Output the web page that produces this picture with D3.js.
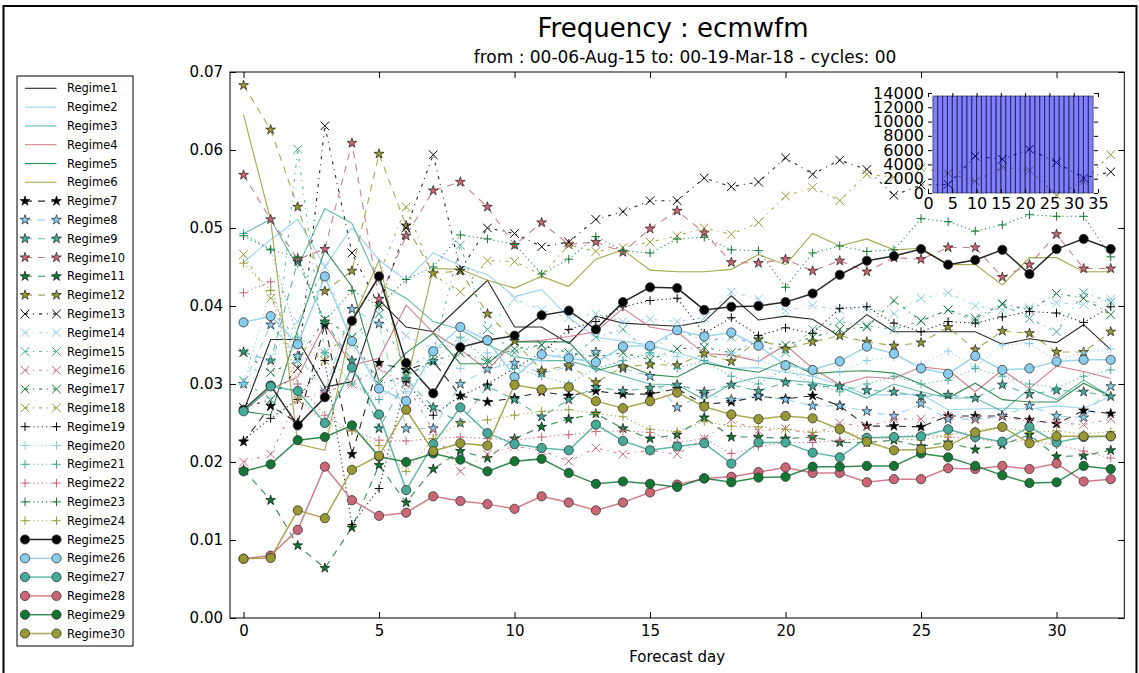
<!DOCTYPE html>
<html><head><meta charset="utf-8">
<script src="https://cdn.jsdelivr.net/npm/d3@7"></script>
<style>body{margin:0;background:#fff} svg{display:block} text{font-family:"DejaVu Sans",sans-serif}</style>
</head><body><svg id="c" width="1139" height="673"></svg>
<script>
const days = [0,1,2,3,4,5,6,7,8,9,10,11,12,13,14,15,16,17,18,19,20,21,22,23,24,25,26,27,28,29,30,31,32];
const regimeNames = ["Regime1","Regime2","Regime3","Regime4","Regime5","Regime6","Regime7","Regime8","Regime9","Regime10",
 "Regime11","Regime12","Regime13","Regime14","Regime15","Regime16","Regime17","Regime18","Regime19","Regime20",
 "Regime21","Regime22","Regime23","Regime24","Regime25","Regime26","Regime27","Regime28","Regime29","Regime30"];
const colors = ["#000000","#88CCEE","#44AA99","#CC6677","#117733","#999933"];

const regime1 = [0.0265,0.0357,0.0357,0.0296,0.0303,0.0408,0.0373,0.0367,0.0400,0.0433,0.0373,0.0373,0.0352,0.0387,0.0378,0.0376,0.0374,0.0380,0.0413,0.0382,0.0387,0.0383,0.0361,0.0389,0.0367,0.0367,0.0367,0.0367,0.0351,0.0358,0.0353,0.0376,0.0344];
const regime2 = [0.0456,0.0485,0.0511,0.0451,0.0500,0.0459,0.0433,0.0468,0.0452,0.0440,0.0412,0.0421,0.0385,0.0360,0.0355,0.0350,0.0340,0.0330,0.0320,0.0321,0.0315,0.0310,0.0299,0.0286,0.0286,0.0287,0.0267,0.0268,0.0269,0.0268,0.0272,0.0269,0.0284];
const regime3 = [0.0493,0.0511,0.0450,0.0525,0.0506,0.0429,0.0410,0.0380,0.0370,0.0350,0.0335,0.0330,0.0330,0.0320,0.0310,0.0300,0.0299,0.0280,0.0300,0.0309,0.0305,0.0302,0.0296,0.0282,0.0300,0.0290,0.0282,0.0282,0.0265,0.0294,0.0280,0.0305,0.0284];
const regime4 = [0.0265,0.0294,0.0309,0.0377,0.0324,0.0333,0.0401,0.0366,0.0344,0.0318,0.0354,0.0356,0.0361,0.0367,0.0397,0.0373,0.0367,0.0339,0.0337,0.0329,0.0350,0.0320,0.0299,0.0309,0.0307,0.0322,0.0318,0.0290,0.0318,0.0294,0.0323,0.0316,0.0307];
const regime5 = [0.0265,0.0260,0.0370,0.0472,0.0425,0.0303,0.0340,0.0365,0.0326,0.0326,0.0354,0.0354,0.0354,0.0317,0.0326,0.0312,0.0309,0.0327,0.0320,0.0315,0.0330,0.0313,0.0316,0.0317,0.0314,0.0300,0.0282,0.0301,0.0280,0.0277,0.0277,0.0301,0.0284];
const regime6 = [0.0645,0.0510,0.0223,0.0215,0.0380,0.0459,0.0300,0.0448,0.0447,0.0433,0.0423,0.0438,0.0425,0.0460,0.0472,0.0446,0.0444,0.0444,0.0447,0.0466,0.0453,0.0493,0.0477,0.0486,0.0472,0.0474,0.0453,0.0453,0.0427,0.0462,0.0462,0.0444,0.0444];
const regime7 = [0.0226,0.0272,0.0250,0.0376,0.0210,0.0327,0.0318,0.0329,0.0285,0.0277,0.0282,0.0290,0.0285,0.0291,0.0287,0.0287,0.0294,0.0274,0.0277,0.0284,0.0281,0.0285,0.0272,0.0246,0.0246,0.0245,0.0259,0.0259,0.0259,0.0254,0.0249,0.0266,0.0262];
const regime8 = [0.0300,0.0376,0.0336,0.0290,0.0396,0.0377,0.0243,0.0243,0.0300,0.0319,0.0327,0.0314,0.0322,0.0341,0.0320,0.0310,0.0270,0.0287,0.0280,0.0285,0.0280,0.0272,0.0272,0.0265,0.0259,0.0275,0.0255,0.0255,0.0259,0.0272,0.0259,0.0257,0.0297];
const regime9 = [0.0341,0.0330,0.0457,0.0380,0.0330,0.0243,0.0306,0.0270,0.0250,0.0297,0.0280,0.0258,0.0280,0.0296,0.0291,0.0295,0.0299,0.0290,0.0299,0.0291,0.0302,0.0297,0.0297,0.0292,0.0290,0.0284,0.0286,0.0282,0.0299,0.0287,0.0292,0.0290,0.0284];
const regime10 = [0.0568,0.0511,0.0460,0.0473,0.0609,0.0409,0.0490,0.0548,0.0559,0.0527,0.0478,0.0507,0.0479,0.0482,0.0469,0.0499,0.0522,0.0494,0.0456,0.0455,0.0460,0.0445,0.0458,0.0444,0.0462,0.0460,0.0475,0.0475,0.0437,0.0453,0.0492,0.0448,0.0448];
const regime11 = [0.0190,0.0151,0.0093,0.0064,0.0116,0.0196,0.0148,0.0191,0.0214,0.0205,0.0230,0.0245,0.0255,0.0262,0.0243,0.0230,0.0235,0.0257,0.0232,0.0232,0.0230,0.0232,0.0225,0.0225,0.0228,0.0220,0.0225,0.0216,0.0222,0.0235,0.0207,0.0208,0.0215];
const regime12 = [0.0683,0.0626,0.0527,0.0419,0.0445,0.0595,0.0503,0.0442,0.0445,0.0390,0.0355,0.0317,0.0324,0.0302,0.0322,0.0325,0.0324,0.0339,0.0329,0.0357,0.0345,0.0354,0.0362,0.0354,0.0349,0.0353,0.0373,0.0344,0.0368,0.0365,0.0341,0.0341,0.0367];
const regime13 = [0.0270,0.0280,0.0320,0.0631,0.0468,0.0400,0.0500,0.0594,0.0446,0.0500,0.0493,0.0476,0.0482,0.0511,0.0521,0.0535,0.0535,0.0564,0.0553,0.0559,0.0590,0.0569,0.0587,0.0575,0.0542,0.0555,0.0556,0.0592,0.0588,0.0601,0.0584,0.0564,0.0572];
const regime14 = [0.0305,0.0335,0.0380,0.0450,0.0350,0.0390,0.0362,0.0345,0.0352,0.0370,0.0409,0.0395,0.0385,0.0390,0.0380,0.0383,0.0380,0.0385,0.0418,0.0409,0.0394,0.0401,0.0395,0.0397,0.0390,0.0410,0.0417,0.0400,0.0395,0.0398,0.0404,0.0402,0.0409];
const regime15 = [0.0304,0.0280,0.0601,0.0340,0.0360,0.0390,0.0320,0.0340,0.0478,0.0370,0.0340,0.0350,0.0330,0.0360,0.0370,0.0340,0.0370,0.0355,0.0360,0.0350,0.0340,0.0370,0.0380,0.0375,0.0370,0.0381,0.0395,0.0380,0.0402,0.0384,0.0367,0.0417,0.0405];
const regime16 = [0.0200,0.0210,0.0280,0.0290,0.0300,0.0320,0.0300,0.0240,0.0188,0.0210,0.0220,0.0215,0.0201,0.0218,0.0210,0.0215,0.0210,0.0230,0.0254,0.0240,0.0243,0.0235,0.0250,0.0245,0.0255,0.0255,0.0259,0.0255,0.0258,0.0252,0.0250,0.0248,0.0255];
const regime17 = [0.0340,0.0315,0.0330,0.0383,0.0360,0.0300,0.0310,0.0330,0.0340,0.0330,0.0345,0.0350,0.0340,0.0335,0.0340,0.0331,0.0345,0.0347,0.0340,0.0355,0.0350,0.0360,0.0370,0.0373,0.0407,0.0381,0.0395,0.0384,0.0403,0.0395,0.0416,0.0410,0.0389];
const regime18 = [0.0466,0.0410,0.0350,0.0330,0.0380,0.0440,0.0527,0.0440,0.0418,0.0458,0.0457,0.0440,0.0478,0.0470,0.0475,0.0482,0.0490,0.0500,0.0492,0.0507,0.0541,0.0552,0.0535,0.0569,0.0565,0.0577,0.0570,0.0560,0.0578,0.0574,0.0542,0.0560,0.0594];
const regime19 = [0.0228,0.0256,0.0280,0.0330,0.0120,0.0166,0.0303,0.0260,0.0285,0.0300,0.0320,0.0340,0.0370,0.0380,0.0399,0.0407,0.0410,0.0365,0.0385,0.0362,0.0372,0.0365,0.0397,0.0399,0.0378,0.0367,0.0380,0.0378,0.0386,0.0393,0.0391,0.0379,0.0399];
const regime20 = [0.0300,0.0420,0.0330,0.0340,0.0320,0.0300,0.0290,0.0330,0.0320,0.0340,0.0320,0.0330,0.0340,0.0320,0.0330,0.0340,0.0335,0.0330,0.0340,0.0330,0.0320,0.0310,0.0315,0.0330,0.0335,0.0325,0.0342,0.0322,0.0350,0.0352,0.0330,0.0340,0.0345];
const regime21 = [0.0493,0.0473,0.0360,0.0340,0.0300,0.0280,0.0310,0.0330,0.0360,0.0330,0.0320,0.0310,0.0300,0.0320,0.0330,0.0340,0.0320,0.0330,0.0310,0.0300,0.0320,0.0300,0.0290,0.0300,0.0310,0.0300,0.0305,0.0320,0.0310,0.0300,0.0295,0.0310,0.0318];
const regime22 = [0.0417,0.0431,0.0300,0.0260,0.0240,0.0228,0.0227,0.0230,0.0232,0.0230,0.0228,0.0232,0.0235,0.0239,0.0240,0.0238,0.0225,0.0230,0.0211,0.0220,0.0225,0.0225,0.0228,0.0230,0.0232,0.0235,0.0232,0.0230,0.0225,0.0228,0.0222,0.0214,0.0205];
const regime23 = [0.0490,0.0472,0.0463,0.0380,0.0420,0.0400,0.0434,0.0450,0.0491,0.0486,0.0479,0.0441,0.0460,0.0489,0.0471,0.0468,0.0486,0.0488,0.0472,0.0471,0.0424,0.0468,0.0477,0.0470,0.0472,0.0512,0.0508,0.0496,0.0504,0.0517,0.0515,0.0515,0.0463];
const regime24 = [0.0455,0.0420,0.0282,0.0250,0.0240,0.0221,0.0188,0.0230,0.0250,0.0254,0.0260,0.0265,0.0267,0.0262,0.0258,0.0242,0.0239,0.0252,0.0246,0.0245,0.0242,0.0238,0.0240,0.0232,0.0230,0.0228,0.0235,0.0240,0.0245,0.0238,0.0240,0.0236,0.0239];
const regime25 = [0.0267,0.0298,0.0247,0.0283,0.0381,0.0438,0.0327,0.0288,0.0347,0.0356,0.0362,0.0388,0.0394,0.0370,0.0405,0.0424,0.0423,0.0395,0.0399,0.0400,0.0405,0.0416,0.0440,0.0458,0.0464,0.0473,0.0453,0.0459,0.0472,0.0441,0.0473,0.0486,0.0473];
const regime26 = [0.0379,0.0387,0.0351,0.0438,0.0355,0.0294,0.0278,0.0342,0.0373,0.0356,0.0309,0.0338,0.0333,0.0328,0.0348,0.0349,0.0369,0.0361,0.0366,0.0349,0.0324,0.0318,0.0329,0.0348,0.0339,0.0320,0.0313,0.0336,0.0318,0.0320,0.0329,0.0331,0.0331];
const regime27 = [0.0265,0.0297,0.0291,0.0250,0.0321,0.0261,0.0164,0.0223,0.0270,0.0237,0.0223,0.0218,0.0215,0.0248,0.0227,0.0215,0.0220,0.0224,0.0198,0.0225,0.0225,0.0212,0.0206,0.0231,0.0232,0.0233,0.0242,0.0232,0.0226,0.0245,0.0225,0.0232,0.0233];
const regime28 = [0.0076,0.0080,0.0113,0.0194,0.0151,0.0131,0.0135,0.0156,0.0150,0.0146,0.0140,0.0156,0.0148,0.0138,0.0148,0.0161,0.0171,0.0179,0.0181,0.0187,0.0193,0.0186,0.0186,0.0174,0.0178,0.0178,0.0192,0.0191,0.0195,0.0191,0.0198,0.0175,0.0178];
const regime29 = [0.0188,0.0197,0.0228,0.0232,0.0247,0.0207,0.0200,0.0211,0.0203,0.0188,0.0201,0.0204,0.0186,0.0172,0.0175,0.0172,0.0168,0.0179,0.0174,0.0180,0.0181,0.0194,0.0194,0.0195,0.0195,0.0211,0.0206,0.0195,0.0183,0.0173,0.0174,0.0195,0.0191];
const regime30 = [0.0076,0.0077,0.0138,0.0128,0.0190,0.0208,0.0267,0.0214,0.0224,0.0221,0.0299,0.0293,0.0296,0.0278,0.0269,0.0278,0.0289,0.0271,0.0261,0.0255,0.0259,0.0256,0.0242,0.0226,0.0215,0.0216,0.0221,0.0238,0.0245,0.0224,0.0233,0.0233,0.0233];

const insetBins = [1,2,3,4,5,6,7,8,9,10,11,12,13,14,15,16,17,18,19,20,21,22,23,24,25,26,27,28,29,30,31,32,33];
const insetCounts = [13580,13580,13580,13580,13580,13580,13580,13580,13580,13580,13580,13580,13580,13580,13580,13580,13580,13580,13580,13580,13580,13580,13580,13580,13580,13580,13580,13580,13580,13580,13580,13580,13580];

const yTicks = [0,0.01,0.02,0.03,0.04,0.05,0.06,0.07];
const xTicks = [0,5,10,15,20,25,30];
const insetYTicks = [0,2000,4000,6000,8000,10000,12000,14000];
const insetXTicks = [0,5,10,15,20,25,30,35];

const series = [regime1,regime2,regime3,regime4,regime5,regime6,regime7,regime8,regime9,regime10,
 regime11,regime12,regime13,regime14,regime15,regime16,regime17,regime18,regime19,regime20,
 regime21,regime22,regime23,regime24,regime25,regime26,regime27,regime28,regime29,regime30];

const svg = d3.select("#c");
svg.append("rect").attr("x",3.5).attr("y",6).attr("width",1133).attr("height",720)
  .attr("fill","none").attr("stroke","#000").attr("stroke-width",2);

const L = 230, R = 1124.3, T = 72, B = 618;
const x = d3.scaleLinear().domain([-0.5, 32.5]).range([L, R]);
const y = d3.scaleLinear().domain([0, 0.07]).range([B, T]);

function style(i){
  const g = Math.floor(i/6);
  return {
    color: colors[i%6],
    dash: [null,"7,6","3,5,1,5","1.2,3",null][g],
    marker: [null,"star","x","plus","circle"][g],
    width: g===4 ? 1.5 : 1.1
  };
}
const starPath = d3.symbol().type(d3.symbolStar).size(30)();
function markerPath(m){
  const r = 4.3;
  if(m==="x") return `M${-r},${-r}L${r},${r}M${-r},${r}L${r},${-r}`;
  if(m==="plus") return `M${-r},0L${r},0M0,${-r}L0,${r}`;
  return starPath;
}
function drawMarker(g, m, color, cx, cy){
  if(!m) return;
  if(m==="circle"){
    g.append("circle").attr("cx",cx).attr("cy",cy).attr("r",4.6)
      .attr("fill",color).attr("stroke","#333").attr("stroke-width",0.8);
  } else if(m==="star"){
    g.append("path").attr("d",markerPath(m)).attr("transform",`translate(${cx},${cy})`)
      .attr("fill",color).attr("stroke","#000").attr("stroke-width",0.6);
  } else {
    g.append("path").attr("d",markerPath(m)).attr("transform",`translate(${cx},${cy})`)
      .attr("fill","none").attr("stroke",color).attr("stroke-width",1);
  }
}

const plot = svg.append("g");
const line = d3.line().x((d,j)=>x(days[j])).y(d=>y(d));
series.forEach((vals,i)=>{
  const s = style(i);
  const g = plot.append("g");
  g.append("path").attr("d",line(vals)).attr("fill","none")
    .attr("stroke",s.color).attr("stroke-width",s.width).attr("stroke-opacity",0.85)
    .attr("stroke-dasharray",s.dash);
  vals.forEach((v,j)=>drawMarker(g, s.marker, s.color, x(days[j]), y(v)));
});

svg.append("rect").attr("x",L).attr("y",T).attr("width",R-L).attr("height",B-T)
  .attr("fill","none").attr("stroke","#000").attr("stroke-width",1);
const fs = "15px";
const ax = svg.append("g").attr("transform",`translate(0,${B})`)
  .call(d3.axisBottom(x).tickValues(xTicks).tickSize(-6).tickPadding(7).tickFormat(d3.format("d")));
const axTop = svg.append("g").attr("transform",`translate(0,${T})`)
  .call(d3.axisTop(x).tickValues(xTicks).tickSize(-6).tickFormat(""));
const ay = svg.append("g").attr("transform",`translate(${L},0)`)
  .call(d3.axisLeft(y).tickValues(yTicks).tickSize(-6).tickPadding(7).tickFormat(d3.format(".2f")));
const ayR = svg.append("g").attr("transform",`translate(${R},0)`)
  .call(d3.axisRight(y).tickValues(yTicks).tickSize(-6).tickFormat(""));
[ax,axTop,ay,ayR].forEach(a=>{
  a.select(".domain").remove();
  a.selectAll("text").attr("font-size",fs).attr("font-family","DejaVu Sans").attr("fill","#000");
  a.selectAll("line").attr("stroke","#000");
});
svg.append("text").attr("x",(L+R)/2).attr("y",662).attr("text-anchor","middle")
  .attr("font-size","15px").text("Forecast day");

svg.append("text").attr("x",673).attr("y",37).attr("text-anchor","middle")
  .attr("font-size","26px").text("Frequency : ecmwfm");
svg.append("text").attr("x",685).attr("y",63).attr("text-anchor","middle")
  .attr("font-size","17px").text("from : 00-06-Aug-15 to: 00-19-Mar-18 - cycles: 00");

const ix = d3.scaleLinear().domain([0,35]).range([928,1098]);
const iy = d3.scaleLinear().domain([0,14000]).range([193,93]);
const inset = svg.append("g");
inset.selectAll("rect.bar").data(insetBins).join("rect").attr("class","bar")
  .attr("x",d=>ix(d)).attr("width",d=>ix(d+1)-ix(d))
  .attr("y",(d,k)=>iy(insetCounts[k])).attr("height",(d,k)=>iy(0)-iy(insetCounts[k]))
  .attr("fill","#0000ff").attr("fill-opacity",0.5).attr("stroke","#000").attr("stroke-opacity",0.5).attr("stroke-width",1);
const iax = inset.append("g").attr("transform",`translate(0,${iy(0)})`)
  .call(d3.axisBottom(ix).tickValues(insetXTicks).tickSize(-4).tickPadding(4).tickFormat(d3.format("d")));
const iaxT = inset.append("g").attr("transform",`translate(0,${iy(14000)})`)
  .call(d3.axisTop(ix).tickValues(insetXTicks).tickSize(-4).tickFormat(""));
const iay = inset.append("g").attr("transform",`translate(${ix(0)},0)`)
  .call(d3.axisLeft(iy).tickValues(insetYTicks).tickSize(-4).tickPadding(4).tickFormat(d3.format("d")));
const iayR = inset.append("g").attr("transform",`translate(${ix(35)},0)`)
  .call(d3.axisRight(iy).tickValues(insetYTicks).tickSize(-4).tickFormat(""));
[iax,iaxT,iay,iayR].forEach(a=>{
  a.select(".domain").remove();
  a.selectAll("text").attr("font-size","16px").attr("font-family","DejaVu Sans").attr("fill","#000");
  a.selectAll("line").attr("stroke","#000");
});
iax.selectAll("text").attr("dy","0.75em");

const lg = svg.append("g");
lg.append("rect").attr("x",17).attr("y",76).attr("width",116).attr("height",570)
  .attr("fill","#fff").attr("stroke","#000").attr("stroke-width",1);
regimeNames.forEach((name,i)=>{
  const s = style(i);
  const cy = 88.3 + i*18.8;
  const g = lg.append("g");
  g.append("line").attr("x1",25).attr("x2",56.5).attr("y1",cy).attr("y2",cy)
    .attr("stroke",s.color).attr("stroke-width",s.width).attr("stroke-opacity",0.85)
    .attr("stroke-dasharray",s.dash);
  drawMarker(g, s.marker, s.color, 25, cy);
  drawMarker(g, s.marker, s.color, 56.5, cy);
  g.append("text").attr("x",67).attr("y",cy+4).attr("font-size","11.5px").text(name);
});
</script></body></html>
